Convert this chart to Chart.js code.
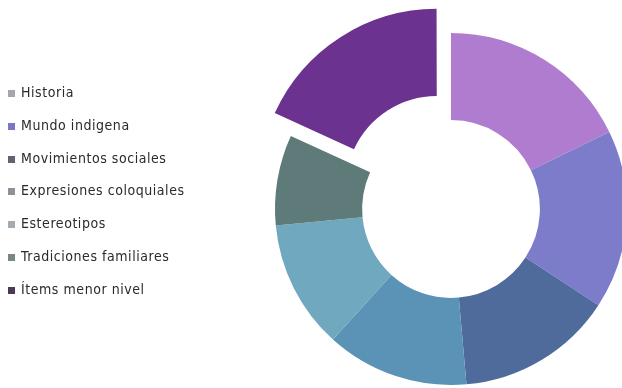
<!DOCTYPE html>
<html>
<head>
<meta charset="utf-8">
<script src="https://cdn.jsdelivr.net/npm/chart.js@4.4.0/dist/chart.umd.min.js"></script>
<style>
  html, body { margin: 0; padding: 0; background: #ffffff; }
  #wrap { position: relative; width: 622px; height: 388px; overflow: hidden; }
  #chart { position: absolute; left: 0; top: 0; }
  #legend { position: absolute; left: 8px; top: 83px; margin: 0; padding: 0; list-style: none;
    font-family: "DejaVu Sans Condensed", "DejaVu Sans", sans-serif; font-size: 14px;
    letter-spacing: 0.55px; color: #2a2a2a; }
  #legend li { height: 32.8px; line-height: 18px; white-space: nowrap; }
  #legend span { display: inline-block; width: 7px; height: 7px; margin-right: 6px; vertical-align: 0px; }
</style>
</head>
<body>
<div id="wrap">
  <canvas id="chart" width="622" height="388"></canvas>
  <ul id="legend"></ul>
</div>
<script>
const categories = ['Historia', 'Mundo indigena', 'Movimientos sociales', 'Expresiones coloquiales',
  'Estereotipos', 'Tradiciones familiares', 'Ítems menor nivel'];
const shares = [17.8, 16.4, 14.4, 13.1, 11.8, 8.3, 18.2];
const sliceColors = ['#b07ccf', '#7d7ccb', '#4f6b9c', '#5a93b6', '#70a8bf', '#5e7b79', '#6b3290'];
const legendColors = ['#a9a3ad', '#7a78c2', '#5f6470', '#8c9297', '#a3acb0', '#7a8585', '#4a3a55'];
// chart.js draws an arc offset at a quarter of this value
const explode = [0, 0, 0, 0, 0, 0, 104];

// legend on the left, built from the same arrays
const legend = document.getElementById('legend');
categories.forEach((name, i) => {
  const li = document.createElement('li');
  const box = document.createElement('span');
  box.style.background = legendColors[i];
  li.appendChild(box);
  li.appendChild(document.createTextNode(name));
  legend.appendChild(li);
});

const ctx = document.getElementById('chart').getContext('2d');
new Chart(ctx, {
  type: 'doughnut',
  data: {
    labels: categories,
    datasets: [{
      data: shares,
      backgroundColor: sliceColors,
      borderWidth: 0,
      offset: explode
    }]
  },
  options: {
    responsive: false,
    animation: false,
    radius: 176,
    cutout: '50.5%',
    layout: { padding: { left: 280, top: 30, right: 0, bottom: 0 } },
    plugins: {
      legend: { display: false },
      tooltip: { enabled: false }
    }
  }
});
</script>
</body>
</html>
